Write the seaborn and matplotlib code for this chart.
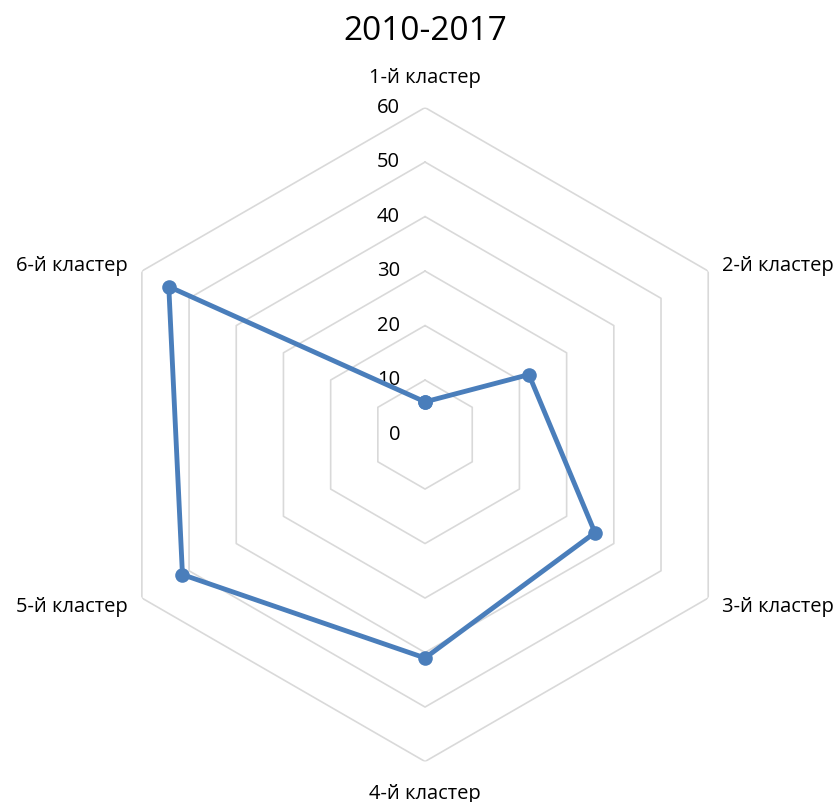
import numpy as np
import pandas as pd
import matplotlib
matplotlib.use("Agg")
import matplotlib.pyplot as plt
import seaborn as sns

# Chart data
categories = ["1-й кластер", "2-й кластер", "3-й кластер",
              "4-й кластер", "5-й кластер", "6-й кластер"]
values = [6, 22, 36, 41, 51.4, 54.3]
ring_ticks = [0, 10, 20, 30, 40, 50, 60]
title = "2010-2017"

sns.set_theme(style="white")
plt.rcParams["font.family"] = ["Open Sans", "DejaVu Sans"]

LINE_COLOR = "#4a7ebb"
GRID_COLOR = "#d9d9d9"

n = len(categories)
angles = np.linspace(0, 2 * np.pi, n, endpoint=False)
angles_closed = np.append(angles, 2 * np.pi)

fig = plt.figure(figsize=(8.4, 8.03), dpi=100)
ax = fig.add_axes([0.1167, 0.0504, 0.7786, 0.8144], projection="polar")
ax.set_theta_zero_location("N")
ax.set_theta_direction(-1)
ax.set_ylim(0, ring_ticks[-1])
ax.grid(False)
ax.spines["polar"].set_visible(False)
ax.set_xticks([])
ax.set_yticks([])
ax.set_facecolor("none")

# hexagonal grid rings
for r in ring_ticks[1:]:
    ax.plot(angles_closed, [r] * (n + 1), color=GRID_COLOR, lw=1.2, zorder=1)

# ring value labels
for r in ring_ticks:
    ax.annotate(str(r), xy=(0, r), xytext=(-25, 1), textcoords="offset pixels",
                ha="right", va="center", fontsize=14.5, color="#000000")

# category labels
label_pos = [
    ((0, 31), "center"),
    ((14, 6), "left"),
    ((14, -8), "left"),
    ((0, -31), "center"),
    ((-14, -8), "right"),
    ((-14, 6), "right"),
]
for ang, cat, (off, ha) in zip(angles, categories, label_pos):
    ax.annotate(cat, xy=(ang, ring_ticks[-1]), xytext=off, textcoords="offset pixels",
                ha=ha, va="center", fontsize=14.5, color="#000000", annotation_clip=False)

# data polygon
df = pd.DataFrame({"angle": angles_closed, "value": values + values[:1]})
sns.lineplot(data=df, x="angle", y="value", sort=False, ax=ax, color=LINE_COLOR,
             lw=3.5, marker="o", markersize=10.5, markeredgewidth=0, zorder=3,
             clip_on=False)
ax.set_xlabel("")
ax.set_ylabel("")

fig.text(0.506, 1 - 32 / 803, title, ha="center", va="center", fontsize=24, color="#000000")

fig.savefig("out.png", dpi=100, facecolor="white")
